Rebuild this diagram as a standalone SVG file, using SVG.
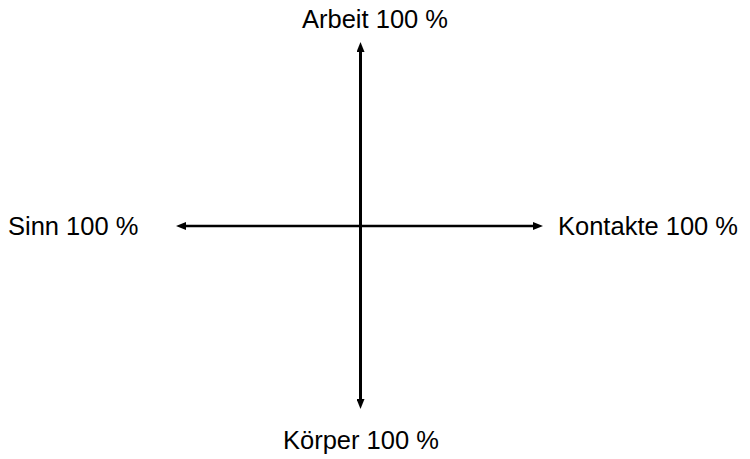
<svg xmlns="http://www.w3.org/2000/svg" width="750" height="459" viewBox="0 0 750 459">
  <style>
    .lbl { font-family: "Liberation Sans", Arial, sans-serif; font-size: 25.5px; fill: #000; }
    .axis { stroke: #000; fill: none; }
  </style>
  <defs>
    <marker id="ah" markerUnits="userSpaceOnUse" markerWidth="10" markerHeight="8" refX="2" refY="4" orient="auto-start-reverse" viewBox="0 0 10 8">
      <path d="M0,0 L10,4 L0,8 z" fill="#000"/>
    </marker>
  </defs>
  <rect width="750" height="459" fill="#fff"/>
  <g id="connectors">
    <line class="axis" x1="360.5" y1="50" x2="360.5" y2="401" stroke-width="3" marker-start="url(#ah)" marker-end="url(#ah)"/>
    <line class="axis" x1="184" y1="226" x2="535" y2="226" stroke-width="2.5" marker-start="url(#ah)" marker-end="url(#ah)"/>
  </g>
  <g id="arbeit"><text class="lbl" x="302" y="28">Arbeit 100 %</text></g>
  <g id="sinn"><text class="lbl" x="8" y="235">Sinn 100 %</text></g>
  <g id="kontakte"><text class="lbl" x="558" y="235">Kontakte 100 %</text></g>
  <g id="koerper"><text class="lbl" x="283" y="449">Körper 100 %</text></g>
</svg>
